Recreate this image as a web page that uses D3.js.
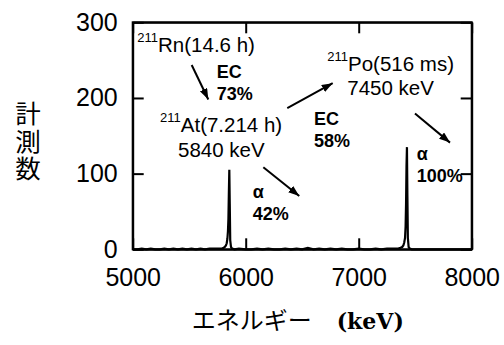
<!DOCTYPE html>
<html>
<head>
<meta charset="utf-8">
<script src="https://cdn.jsdelivr.net/npm/d3@7"></script>
<style>
  body { margin: 0; background: #fff; }
  svg { display: block; }
</style>
</head>
<body>
<div id="chart"></div>
<script>
// spectrum (energy in keV, counts)
const specEnergy = [5000, 5040, 5080, 5120, 5160, 5200, 5240, 5280, 5320, 5360, 5400, 5440, 5480, 5520,
  5560, 5600, 5640, 5680, 5720, 5760, 5790, 5805, 5815, 5825, 5832, 5838, 5843, 5847, 5851, 5855, 5859,
  5863, 5870, 5880, 5900, 5940, 6000, 6050, 6100, 6150, 6200, 6250, 6300, 6350, 6400, 6450, 6500, 6550,
  6600, 6650, 6700, 6750, 6800, 6850, 6900, 6950, 7000, 7050, 7100, 7150, 7200, 7250, 7300, 7330, 7350,
  7370, 7385, 7395, 7403, 7410, 7415, 7419, 7423, 7427, 7431, 7435, 7442, 7452, 7470, 7500, 7550, 7600,
  7700, 7800, 7900, 8000];
const specCounts = [0, 0, 1, 0, 1, 0, 0, 1, 0, 1, 0, 1, 0, 1,
  0, 1, 0, 1, 1, 1, 1, 2, 3, 5, 8, 14, 24, 40, 75, 105, 60,
  12, 3, 1, 0, 1, 0, 0, 1, 0, 1, 0, 0, 1, 0, 1, 0, 2,
  0, 1, 0, 1, 0, 1, 0, 0, 1, 0, 0, 1, 0, 1, 1, 1, 1,
  2, 3, 5, 9, 15, 30, 60, 110, 135, 70, 15, 3, 1, 0, 0, 0, 0,
  0, 0, 0, 0];

const xTicks = [5000, 6000, 7000, 8000];
const yTicks = [0, 100, 200, 300];

const xTitleJa = 'エネルギー';
const xTitleUnit = '(keV)';
const yTitle = '計測数';

// decay scheme labels, placed in data units [energy, counts]
const nuclides = [
  {mass: '211', name: 'Rn(14.6 h)', at: [5041, 261]},
  {mass: '211', name: 'At(7.214 h)', at: [5242, 155.5]},
  {mass: '211', name: 'Po(516 ms)', at: [6722, 235]}
];
const energyLabels = [
  {text: '5840 keV', at: [5401, 122.5]},
  {text: '7450 keV', at: [6899, 203.5]}
];
const branchLabels = [
  {mode: 'EC', ratio: '73%', at: [5743, 226]},
  {mode: 'EC', ratio: '58%', at: [6604, 164.5]},
  {mode: 'α', ratio: '42%', at: [6062, 67.5]},
  {mode: 'α', ratio: '100%', at: [7513, 118.5]}
];
const arrows = [
  {from: [5522, 243.5], to: [5669, 198]},
  {from: [6368, 186.5], to: [6770, 219.5]},
  {from: [6156, 108.5], to: [6474, 70.5]},
  {from: [7498, 179.5], to: [7808, 141]}
];

const W = 504, H = 345;
const m = {left: 132.7, right: 471.7, top: 22.3, bottom: 249.3};
const font = '"Liberation Sans", Arial, sans-serif';
const jpFont = '"Noto Sans CJK JP", sans-serif';

const svg = d3.select('#chart').append('svg')
  .attr('width', W).attr('height', H);

const x = d3.scaleLinear().domain([5000, 8000]).range([m.left, m.right]);
const y = d3.scaleLinear().domain([0, 300]).range([m.bottom, m.top]);

// arrow head
svg.append('defs').append('marker')
  .attr('id', 'head')
  .attr('markerUnits', 'userSpaceOnUse')
  .attr('markerWidth', 12).attr('markerHeight', 9)
  .attr('refX', 11).attr('refY', 4)
  .attr('orient', 'auto')
  .append('path')
    .attr('d', 'M0,0 L11,4 L0,8 Z')
    .attr('fill', '#000');

// spectrum
const line = d3.line()
  .x((d, i) => x(specEnergy[i]))
  .y(d => y(d));

svg.append('path')
  .datum(specCounts)
  .attr('d', line)
  .attr('fill', 'none')
  .attr('stroke', '#000')
  .attr('stroke-width', 2.2);

// axes: ticks all point inwards
function styleAxis(g){
  g.select('.domain').attr('stroke-width', 2);
  g.selectAll('.tick line').attr('stroke-width', 2);
  g.selectAll('.tick text')
    .attr('font-family', font)
    .attr('font-size', 25)
    .attr('fill', '#000');
}

svg.append('g')
  .attr('transform', `translate(0,${m.bottom})`)
  .call(d3.axisBottom(x).tickValues(xTicks).tickSizeInner(-11).tickSizeOuter(0).tickPadding(19)
    .tickFormat(d3.format('d')))
  .call(styleAxis);

svg.append('g')
  .attr('transform', `translate(0,${m.top})`)
  .call(d3.axisTop(x).tickValues(xTicks).tickSizeInner(-11).tickSizeOuter(0).tickFormat(''))
  .call(styleAxis);

svg.append('g')
  .attr('transform', `translate(${m.left},0)`)
  .call(d3.axisLeft(y).tickValues(yTicks).tickSizeInner(-11).tickSizeOuter(0).tickPadding(15))
  .call(styleAxis);

svg.append('g')
  .attr('transform', `translate(${m.right},0)`)
  .call(d3.axisRight(y).tickValues(yTicks).tickSizeInner(-11).tickSizeOuter(0).tickFormat(''))
  .call(styleAxis);

// frame corners
svg.append('rect')
  .attr('x', m.left).attr('y', m.top)
  .attr('width', m.right - m.left).attr('height', m.bottom - m.top)
  .attr('fill', 'none').attr('stroke', '#000').attr('stroke-width', 2);

// annotations
const ann = svg.append('g').attr('font-family', font).attr('fill', '#000');

nuclides.forEach(n => {
  const t = ann.append('text')
    .attr('x', x(n.at[0])).attr('y', y(n.at[1]))
    .attr('font-size', 20.5);
  t.append('tspan').attr('font-size', 13).attr('dy', -10).text(n.mass);
  t.append('tspan').attr('dy', 10).text(n.name);
});

energyLabels.forEach(e => {
  ann.append('text')
    .attr('x', x(e.at[0])).attr('y', y(e.at[1]))
    .attr('font-size', 20.5)
    .text(e.text);
});

branchLabels.forEach(b => {
  const t = ann.append('text')
    .attr('x', x(b.at[0])).attr('y', y(b.at[1]))
    .attr('font-size', 18).attr('font-weight', 'bold');
  t.append('tspan').text(b.mode);
  t.append('tspan').attr('x', x(b.at[0])).attr('dy', 22).text(b.ratio);
});

ann.selectAll('line.arrow')
  .data(arrows)
  .join('line')
    .attr('class', 'arrow')
    .attr('x1', d => x(d.from[0])).attr('y1', d => y(d.from[1]))
    .attr('x2', d => x(d.to[0])).attr('y2', d => y(d.to[1]))
    .attr('stroke', '#000').attr('stroke-width', 2)
    .attr('marker-end', 'url(#head)');

// axis titles
const xt = svg.append('text')
  .attr('x', 191.7).attr('y', 329)
  .attr('fill', '#000');
xt.append('tspan').attr('font-family', jpFont).attr('font-size', 24).text(xTitleJa);
xt.append('tspan').attr('dx', 25)
  .attr('font-family', '"DejaVu Serif", serif').attr('font-weight', 'bold').attr('font-size', 22)
  .text(xTitleUnit);

// vertical y title
svg.append('text')
  .attr('x', 28).attr('y', 101)
  .attr('writing-mode', 'vertical-rl')
  .style('text-orientation', 'upright')
  .attr('letter-spacing', 2)
  .attr('font-family', jpFont).attr('font-size', 25.5)
  .attr('fill', '#000')
  .text(yTitle);
</script>
</body>
</html>
